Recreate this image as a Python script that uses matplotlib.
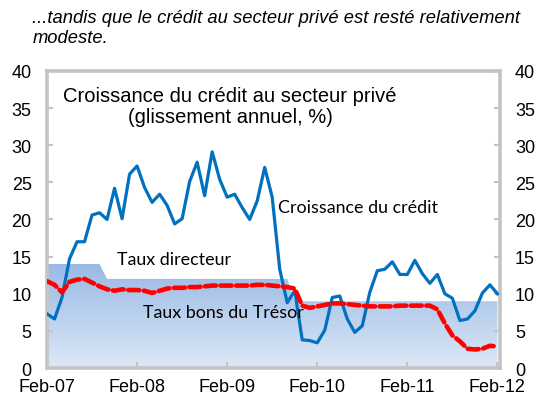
import numpy as np
import matplotlib
matplotlib.use("Agg")
import matplotlib.pyplot as plt
from matplotlib.colors import LinearSegmentedColormap

# monthly data, Feb-07 .. Feb-12
months = np.arange(61)
credit_growth = [
    7.3, 6.6, 9.5, 14.7, 17.0, 17.0, 20.6, 20.9, 20.0, 24.2, 20.1,
    26.1, 27.2, 24.3, 22.3, 23.4, 21.9, 19.4, 20.1, 25.1, 27.7, 23.2, 29.1,
    25.4, 23.0, 23.4, 21.6, 20.0, 22.5, 27.0, 23.0, 13.3, 8.8, 10.4, 3.8,
    3.7, 3.4, 5.1, 9.5, 9.7, 6.6, 4.8, 5.7, 10.2, 13.1, 13.3, 14.3,
    12.6, 12.6, 14.5, 12.7, 11.4, 12.6, 10.0, 9.4, 6.4, 6.6, 7.7, 10.1,
    11.2, 10.0,
]
taux_tresor = [
    11.7, 11.2, 10.2, 11.6, 11.9, 12.0, 11.5, 11.0, 10.6, 10.4, 10.6,
    10.5, 10.5, 10.4, 10.1, 10.4, 10.7, 10.8, 10.8, 10.9, 10.9, 11.0, 11.1,
    11.1, 11.1, 11.1, 11.1, 11.1, 11.2, 11.2, 11.1, 11.0, 10.9, 10.7, 8.4,
    8.1, 8.3, 8.5, 8.7, 8.7, 8.6, 8.5, 8.4, 8.3, 8.3, 8.3, 8.3,
    8.4, 8.4, 8.4, 8.4, 8.4, 7.9, 6.0, 4.4, 3.6, 2.6, 2.5, 2.6,
    3.0, 2.9,
]
taux_directeur = [14.0] * 8 + [12.0] * 25 + [9.0] * 28

year_ticks = [0, 12, 24, 36, 48, 60]
year_labels = ["Feb-07", "Feb-08", "Feb-09", "Feb-10", "Feb-11", "Feb-12"]
y_ticks = [0, 5, 10, 15, 20, 25, 30, 35, 40]

fig = plt.figure(figsize=(5.37, 4.06), dpi=100)
ax = fig.add_axes([0.0875, 0.091, 0.843, 0.732])

# gradient-filled area for the policy rate
poly = ax.fill_between(months, 0, taux_directeur, color="none", lw=0)
cmap = LinearSegmentedColormap.from_list("grad", ["#dde8f6", "#98b9e5"])
grad = np.linspace(0, 1, 256).reshape(-1, 1)
im = ax.imshow(grad, cmap=cmap, origin="lower", aspect="auto",
               extent=[0, 60, 0, 14], zorder=1)
im.set_clip_path(poly.get_paths()[0], transform=ax.transData)

ax.plot(months, credit_growth, color="#0070c0", lw=2.3, zorder=3)
ax.plot(months, taux_tresor, color="#ff0000", lw=3.3, zorder=4,
        linestyle=(0, (2.4, 1.0)), dash_capstyle="round")

ax.set_xlim(0, 60.3)
ax.set_ylim(0, 40)

for s in ax.spines.values():
    s.set_color("#c4c4c4")
    s.set_linewidth(2.6)

ax.set_xticks(year_ticks)
ax.set_xticklabels(year_labels)
ax.set_yticks(y_ticks)
ax.tick_params(axis="both", direction="in", color="#c4c4c4", length=4,
               width=1.5, labelsize=13)
ax.tick_params(axis="y", right=True, labelright=True, pad=11)
ax.tick_params(axis="x", pad=7)
for lab in ax.get_xticklabels() + ax.get_yticklabels():
    lab.set_fontfamily("Liberation Sans")

ax.text(24.4, 35.3, "Croissance du crédit au secteur privé\n(glissement annuel, %)",
        ha="center", va="center", fontsize=14.5, family="Liberation Sans",
        linespacing=1.12)
ax.text(30.8, 21.7, "Croissance du crédit", fontsize=12.9, family="Lato", va="center")
ax.text(9.3, 14.7, "Taux directeur", fontsize=12.9, family="Lato", va="center")
ax.text(12.8, 7.5, "Taux bons du Trésor", fontsize=12.9, family="Lato", va="center")

fig.text(0.06, 0.975, "...tandis que le crédit au secteur privé est resté relativement\nmodeste.",
         ha="left", va="top", fontsize=13.2, style="italic",
         family="Liberation Sans", linespacing=1.2)

fig.savefig("out.png", dpi=100)
